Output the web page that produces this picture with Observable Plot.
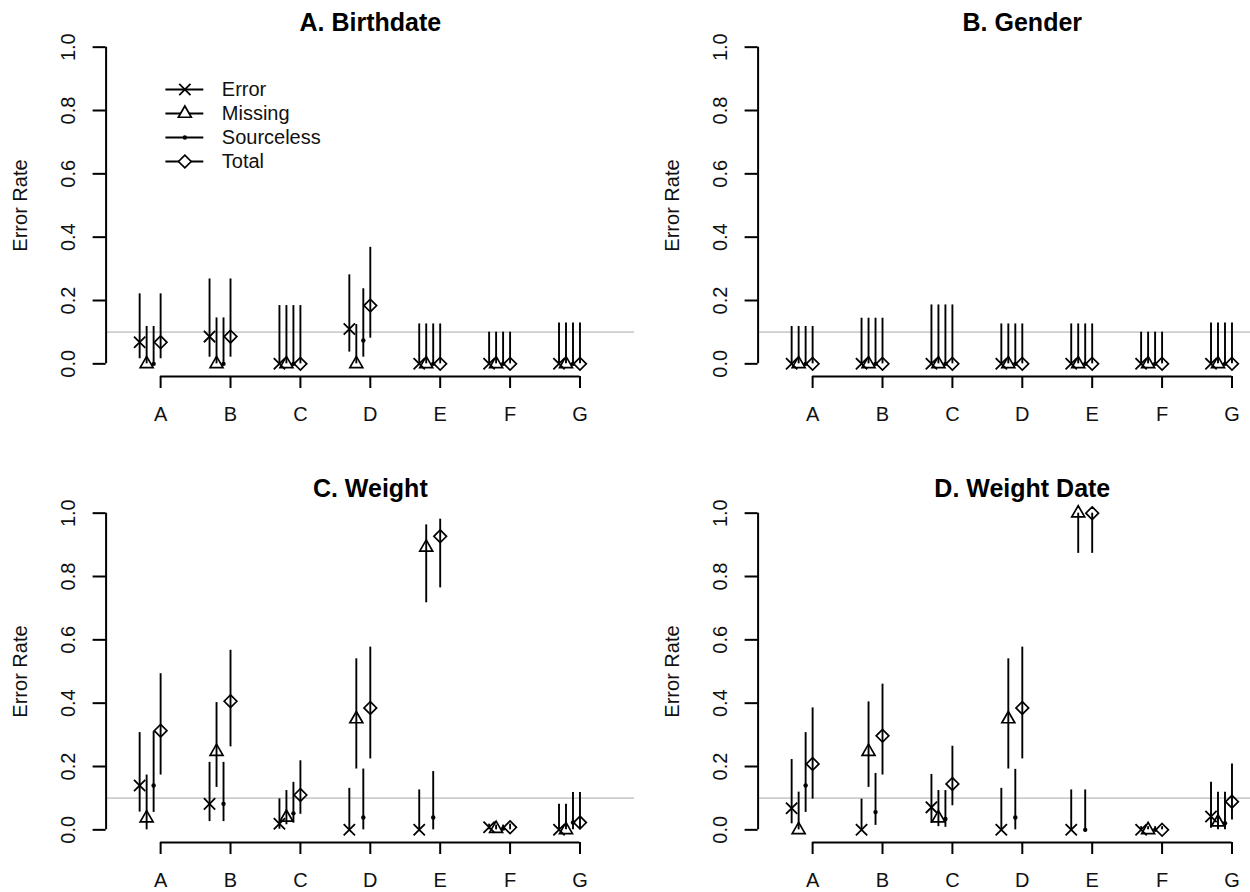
<!DOCTYPE html>
<html>
<head>
<meta charset="utf-8">
<script src="https://cdn.jsdelivr.net/npm/d3@7"></script>
<script src="https://cdn.jsdelivr.net/npm/@observablehq/plot@0.6"></script>
<style>
  html, body { margin: 0; padding: 0; background: #fff; }
  #root { position: relative; width: 1250px; height: 892px; overflow: hidden; background: #fff; }
  .panel { position: absolute; width: 652px; }
  .legend { position: absolute; width: 200px; }
</style>
</head>
<body>
<div id="root"></div>
<script>
// ---------- data ----------
const categories = ["A", "B", "C", "D", "E", "F", "G"];
const seriesNames = ["Error", "Missing", "Sourceless", "Total"];
const yTicks = [0, 0.2, 0.4, 0.6, 0.8, 1.0];
const threshold = 0.1;
const panelTitles = ["A. Birthdate", "B. Gender", "C. Weight", "D. Weight Date"];
const yAxisTitle = "Error Rate";

// each entry: [estimate, lower, upper] for categories A..G
const birthdateError      = [[0.068,0.016,0.221],[0.086,0.021,0.268],[0,0,0.184],[0.110,0.037,0.281],[0,0,0.126],[0,0,0.100],[0,0,0.129]];
const birthdateMissing    = [[0,0,0.118],[0,0,0.145],[0,0,0.184],[0,0,0.124],[0,0,0.126],[0,0,0.100],[0,0,0.129]];
const birthdateSourceless = [[0,0,0.118],[0,0,0.145],[0,0,0.184],[0.074,0.021,0.237],[0,0,0.126],[0,0,0.100],[0,0,0.129]];
const birthdateTotal      = [[0.068,0.016,0.221],[0.086,0.021,0.268],[0,0,0.184],[0.184,0.081,0.368],[0,0,0.126],[0,0,0.100],[0,0,0.129]];

const genderError      = [[0,0,0.118],[0,0,0.144],[0,0,0.186],[0,0,0.126],[0,0,0.126],[0,0,0.100],[0,0,0.129]];
const genderMissing    = [[0,0,0.118],[0,0,0.144],[0,0,0.186],[0,0,0.126],[0,0,0.126],[0,0,0.100],[0,0,0.129]];
const genderSourceless = [[0,0,0.118],[0,0,0.144],[0,0,0.186],[0,0,0.126],[0,0,0.126],[0,0,0.100],[0,0,0.129]];
const genderTotal      = [[0,0,0.118],[0,0,0.144],[0,0,0.186],[0,0,0.126],[0,0,0.126],[0,0,0.100],[0,0,0.129]];

const weightError      = [[0.140,0.056,0.307],[0.082,0.026,0.213],[0.019,0.002,0.098],[0,0,0.131],[0,0,0.126],[0.008,0,0.018],[0,0,0.081]];
const weightMissing    = [[0.037,0,0.173],[0.247,0.134,0.402],[0.039,0.016,0.124],[0.350,0.192,0.540],[0.892,0.717,0.963],[0.004,0,0.015],[0,0,0.081]];
const weightSourceless = [[0.140,0.055,0.310],[0.082,0.026,0.213],[0.052,0.021,0.150],[0.039,0,0.192],[0.039,0,0.184],[0.004,0,0.015],[0.023,0,0.118]];
const weightTotal      = [[0.313,0.173,0.493],[0.406,0.262,0.567],[0.110,0.049,0.218],[0.385,0.224,0.577],[0.927,0.764,0.981],[0.008,0,0.018],[0.023,0,0.118]];

const weightDateError      = [[0.068,0.019,0.222],[0,0,0.097],[0.071,0.020,0.175],[0,0,0.131],[0,0,0.126],[0,0,0.010],[0.042,0.005,0.150]];
const weightDateMissing    = [[0,0,0.119],[0.247,0.134,0.404],[0.037,0.010,0.124],[0.350,0.192,0.540],[1.0,0.873,1.0],[0,0,0.010],[0.024,0,0.119]];
const weightDateSourceless = [[0.140,0.055,0.307],[0.056,0.014,0.178],[0.034,0.008,0.124],[0.039,0,0.191],[0,0,0.126],[0,0,0.010],[0.021,0,0.119]];
const weightDateTotal      = [[0.208,0.097,0.385],[0.297,0.173,0.460],[0.145,0.076,0.264],[0.385,0.224,0.577],[1.0,0.873,1.0],[0,0,0.010],[0.089,0.031,0.208]];

const panelSeries = [
  [birthdateError, birthdateMissing, birthdateSourceless, birthdateTotal],
  [genderError, genderMissing, genderSourceless, genderTotal],
  [weightError, weightMissing, weightSourceless, weightTotal],
  [weightDateError, weightDateMissing, weightDateSourceless, weightDateTotal]
];

// ---------- styles ----------
const FONT = "'Liberation Sans', Arial, Helvetica, sans-serif";
const FS = 20;
const seriesOffset = [-0.3, -0.2, -0.1, 0];
const seriesStyle = [
  {symbol: "times",    r: 5.2, fill: "none",  stroke: "black", strokeWidth: 1.8},
  {symbol: "triangle", r: 4.8, fill: "none",  stroke: "black", strokeWidth: 1.7},
  {symbol: "circle",   r: 2.2, fill: "black", stroke: "none",  strokeWidth: 0},
  {symbol: "diamond2", r: 5.7, fill: "none",  stroke: "black", strokeWidth: 1.7}
];
const xLim = [0.22, 7.78];
const yLim = [-0.04, 1.04];
const panelPos = [[0, 0], [652, 0], [0, 466], [652, 466]];
const panelHeight = [466, 466, 426, 426];

const root = document.getElementById("root");

panelSeries.forEach((seriesList, p) => {
  const rows = [];
  seriesList.forEach((vals, s) => {
    vals.forEach((v, i) => {
      rows.push({series: seriesNames[s], s, x: i + 1 + seriesOffset[s], est: v[0], lo: v[1], hi: v[2]});
    });
  });

  const dotMarks = seriesStyle.map((st, s) =>
    Plot.dot(rows.filter(d => d.s === s), {
      x: "x", y: "est", symbol: st.symbol, r: st.r,
      fill: st.fill, stroke: st.stroke, strokeWidth: st.strokeWidth
    })
  );

  const chart = Plot.plot({
    width: 652,
    height: panelHeight[p],
    marginLeft: 105.6,
    marginRight: 18,
    marginTop: 34,
    marginBottom: panelHeight[p] - 376,
    style: {fontFamily: FONT, fontSize: FS + "px", background: "white", color: "black", overflow: "visible"},
    x: {type: "linear", domain: xLim, axis: null},
    y: {type: "linear", domain: yLim, axis: null},
    marks: [
      Plot.ruleY([threshold], {stroke: "#cdcdcd", strokeWidth: 1.6}),
      Plot.ruleX(rows, {x: "x", y1: "lo", y2: "hi", stroke: "black", strokeWidth: 1.9}),
      ...dotMarks,
      // y axis
      Plot.ruleX([xLim[0]], {y1: yTicks[0], y2: yTicks[yTicks.length - 1], stroke: "black", strokeWidth: 2}),
      Plot.axisY({ticks: yTicks, tickSize: 13, tickFormat: () => "", label: null, strokeWidth: 2}),
      Plot.text(yTicks, {y: d => d, text: d => d.toFixed(1), frameAnchor: "left", dx: -38, rotate: -90,
        textAnchor: "middle", lineAnchor: "middle", fontSize: FS, fill: "#111"}),
      Plot.text([yAxisTitle], {text: d => d, frameAnchor: "left", dx: -86, rotate: -90,
        textAnchor: "middle", lineAnchor: "middle", fontSize: FS, fill: "#111"}),
      // x axis
      Plot.ruleY([yLim[0]], {x1: 1, x2: categories.length, stroke: "black", strokeWidth: 2}),
      Plot.axisX({ticks: categories.map((c, i) => i + 1), tickSize: 12, tickFormat: () => "", label: null, strokeWidth: 2}),
      Plot.text(categories, {x: (d, i) => i + 1, text: d => d, frameAnchor: "bottom", dy: 38,
        textAnchor: "middle", lineAnchor: "middle", fontSize: FS, fill: "#111"}),
      // title
      Plot.text([panelTitles[p]], {text: d => d, frameAnchor: "top", dy: -12,
        textAnchor: "middle", lineAnchor: "middle", fontSize: 25, fontWeight: "bold", fill: "#000"})
    ]
  });

  const div = document.createElement("div");
  div.className = "panel";
  div.style.left = panelPos[p][0] + "px";
  div.style.top = panelPos[p][1] + "px";
  div.appendChild(chart);
  root.appendChild(div);
});

// ---------- legend (inside panel A) ----------
const legend = Plot.plot({
  width: 200,
  height: 110,
  margin: 0,
  style: {fontFamily: FONT, fontSize: FS + "px", background: "transparent", overflow: "visible"},
  x: {type: "linear", domain: [0, 1], range: [15.4, 53.3], axis: null},
  y: {type: "point", domain: seriesNames, range: [17.3, 91.7], padding: 0, axis: null},
  marks: [
    Plot.ruleY(seriesNames, {y: d => d, x1: 0, x2: 1, stroke: "black", strokeWidth: 1.8}),
    ...seriesStyle.map((st, s) => Plot.dot([seriesNames[s]], {
      x: 0.5, y: d => d, symbol: st.symbol, r: st.r,
      fill: st.fill === "none" ? "white" : st.fill, stroke: st.stroke, strokeWidth: st.strokeWidth
    })),
    Plot.text(seriesNames, {x: 1, y: d => d, text: d => d, dx: 18, textAnchor: "start", fontSize: FS, fill: "#111"})
  ]
});
const ldiv = document.createElement("div");
ldiv.className = "legend";
ldiv.style.left = "150px";
ldiv.style.top = "70px";
ldiv.appendChild(legend);
root.appendChild(ldiv);
</script>
</body>
</html>
